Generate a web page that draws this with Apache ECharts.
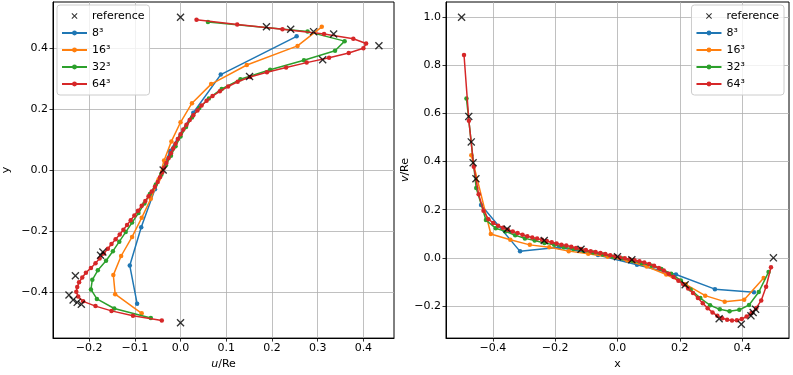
<!DOCTYPE html>
<html>
<head>
  <meta charset="utf-8">
  <title>cavity profiles</title>
  <script src="https://cdn.jsdelivr.net/npm/echarts@6/dist/echarts.min.js"></script>
</head>
<body style="margin:0">
  <div id="main" style="width:793px;height:375px;"></div>
  <script type="text/javascript">
    // cell centre coordinates of the meshes (y on the left plot, x on the right one)
    var pos8 = [-0.4375, -0.3125, -0.1875, -0.0625, 0.0625, 0.1875, 0.3125, 0.4375];
    var pos16 = [-0.4688, -0.4063, -0.3438, -0.2813, -0.2188, -0.1563, -0.0938, -0.0313,
                 0.0313, 0.0938, 0.1563, 0.2188, 0.2813, 0.3438, 0.4063, 0.4688];
    var pos32 = [-0.4844, -0.4531, -0.4219, -0.3906, -0.3594, -0.3281, -0.2969, -0.2656,
                 -0.2344, -0.2031, -0.1719, -0.1406, -0.1094, -0.0781, -0.0469, -0.0156,
                 0.0156, 0.0469, 0.0781, 0.1094, 0.1406, 0.1719, 0.2031, 0.2344,
                 0.2656, 0.2969, 0.3281, 0.3594, 0.3906, 0.4219, 0.4531, 0.4844];
    var pos64 = [-0.4922, -0.4766, -0.4609, -0.4453, -0.4297, -0.4141, -0.3984, -0.3828,
                 -0.3672, -0.3516, -0.3359, -0.3203, -0.3047, -0.2891, -0.2734, -0.2578,
                 -0.2422, -0.2266, -0.2109, -0.1953, -0.1797, -0.1641, -0.1484, -0.1328,
                 -0.1172, -0.1016, -0.0859, -0.0703, -0.0547, -0.0391, -0.0234, -0.0078,
                 0.0078, 0.0234, 0.0391, 0.0547, 0.0703, 0.0859, 0.1016, 0.1172,
                 0.1328, 0.1484, 0.1641, 0.1797, 0.1953, 0.2109, 0.2266, 0.2422,
                 0.2578, 0.2734, 0.2891, 0.3047, 0.3203, 0.3359, 0.3516, 0.3672,
                 0.3828, 0.3984, 0.4141, 0.4297, 0.4453, 0.4609, 0.4766, 0.4922];

    // left plot: u/Re along y
    var uRefY = [-0.5, -0.439, -0.433, -0.425, -0.409, -0.346, -0.279, -0.268, 0.0,
                 0.306, 0.361, 0.407, 0.445, 0.453, 0.461, 0.469, 0.5];
    var uRef = [0.0, -0.217, -0.226, -0.235, -0.244, -0.230, -0.175, -0.170, -0.038,
                0.151, 0.311, 0.434, 0.335, 0.291, 0.241, 0.188, 0.0];
    var u8 = [-0.095, -0.111, -0.086, -0.056, -0.023, 0.028, 0.088, 0.254];
    var u16 = [-0.085, -0.143, -0.147, -0.130, -0.106, -0.085, -0.065, -0.048,
               -0.036, -0.020, 0.000, 0.025, 0.067, 0.145, 0.256, 0.309];
    var u32 = [-0.065, -0.145, -0.183, -0.196, -0.193, -0.181, -0.163, -0.148,
               -0.134, -0.120, -0.106, -0.092, -0.079, -0.067, -0.054, -0.042,
               -0.032, -0.021, -0.011, 0.000, 0.012, 0.025, 0.041, 0.062,
               0.090, 0.131, 0.196, 0.270, 0.338, 0.359, 0.278, 0.060];
    var u64 = [-0.041, -0.104, -0.151, -0.186, -0.213, -0.224, -0.228, -0.226,
               -0.222, -0.215, -0.207, -0.196, -0.186, -0.177, -0.168, -0.159,
               -0.151, -0.142, -0.133, -0.125, -0.117, -0.109, -0.101, -0.093,
               -0.085, -0.077, -0.070, -0.063, -0.056, -0.050, -0.045, -0.040,
               -0.036, -0.031, -0.026, -0.021, -0.016, -0.011, -0.006, 0.000,
               0.006, 0.013, 0.020, 0.028, 0.037, 0.046, 0.057, 0.070,
               0.086, 0.104, 0.125, 0.152, 0.189, 0.231, 0.276, 0.325,
               0.368, 0.400, 0.406, 0.378, 0.314, 0.223, 0.124, 0.035];

    // right plot: v/Re along x
    var vRefX = [-0.5, -0.477, -0.469, -0.463, -0.454, -0.354, -0.235, -0.117, 0.0,
                 0.046, 0.217, 0.326, 0.397, 0.428, 0.435, 0.443, 0.5];
    var vRef = [1.0, 0.588, 0.482, 0.395, 0.329, 0.120, 0.072, 0.036, 0.005,
                -0.008, -0.112, -0.253, -0.276, -0.241, -0.227, -0.214, 0.0];
    var v8 = [0.220, 0.027, 0.044, 0.012, -0.029, -0.069, -0.130, -0.143];
    var v16 = [0.426, 0.099, 0.075, 0.054, 0.044, 0.028, 0.017, 0.005,
               -0.011, -0.036, -0.069, -0.110, -0.157, -0.182, -0.174, -0.084];
    var v32 = [0.662, 0.290, 0.157, 0.123, 0.110, 0.094, 0.081, 0.072,
               0.062, 0.054, 0.044, 0.037, 0.030, 0.022, 0.014, 0.005,
               -0.003, -0.012, -0.022, -0.033, -0.046, -0.066, -0.094, -0.132,
               -0.167, -0.197, -0.214, -0.222, -0.216, -0.196, -0.142, -0.059];
    var v64 = [0.843, 0.570, 0.379, 0.264, 0.196, 0.161, 0.145, 0.134,
               0.125, 0.117, 0.110, 0.103, 0.096, 0.090, 0.085, 0.080,
               0.075, 0.070, 0.065, 0.060, 0.055, 0.051, 0.046, 0.041,
               0.037, 0.033, 0.028, 0.024, 0.020, 0.016, 0.011, 0.007,
               0.002, -0.002, -0.006, -0.010, -0.014, -0.019, -0.025, -0.033,
               -0.042, -0.053, -0.066, -0.080, -0.095, -0.110, -0.127, -0.146,
               -0.167, -0.189, -0.209, -0.227, -0.241, -0.251, -0.257, -0.260,
               -0.259, -0.254, -0.244, -0.229, -0.208, -0.177, -0.120, -0.039];

    var names = ['8\u00b3', '16\u00b3', '32\u00b3', '64\u00b3'];
    var colors = ['#1f77b4', '#ff7f0e', '#2ca02c', '#d62728'];

    // tick labels
    var uTicks = [-0.2, -0.1, 0.0, 0.1, 0.2, 0.3, 0.4];
    var yTicks = [-0.4, -0.2, 0.0, 0.2, 0.4];
    var xTicks = [-0.4, -0.2, 0.0, 0.2, 0.4];
    var vTicks = [-0.2, 0.0, 0.2, 0.4, 0.6, 0.8, 1.0];

    var crossPath = 'path://M0,1.2L1.2,0L5,3.8L8.8,0L10,1.2L6.2,5L10,8.8L8.8,10L5,6.2L1.2,10L0,8.8L3.8,5Z';
    var font = 'DejaVu Sans';

    function fmt(v) { return v.toFixed(1).replace('-', '\u2212'); }
    function pairs(a, b) { return a.map(function (v, i) { return [v, b[i]]; }); }

    function axis(gridIndex, ticks, min, max, name, gap) {
      return {
        type: 'value', gridIndex: gridIndex, min: min, max: max,
        name: name, nameLocation: 'middle', nameGap: gap,
        nameTextStyle: { color: '#000', fontSize: 11, fontFamily: font,
          rich: { i: { fontStyle: 'italic', fontSize: 11, fontFamily: font, color: '#000' } } },
        axisLine: { show: true, onZero: false, lineStyle: { color: '#000', width: 1 } },
        axisTick: { show: true, length: 3.5, customValues: ticks, lineStyle: { color: '#000', width: 0.8 } },
        axisLabel: { color: '#000', fontSize: 11, fontFamily: font, margin: 5,
          customValues: ticks, formatter: fmt },
        splitLine: { show: true, lineStyle: { color: '#b0b0b0', width: 0.8 } }
      };
    }

    var series = [];
    function addPlot(idx, refX, refY, lines) {
      lines.forEach(function (l, i) {
        series.push({
          name: names[i], type: 'line', xAxisIndex: idx, yAxisIndex: idx,
          data: pairs(l[0], l[1]),
          symbol: 'circle', symbolSize: 4.5, showSymbol: true,
          lineStyle: { color: colors[i], width: 1.5 },
          itemStyle: { color: colors[i] },
          emphasis: { disabled: true }, z: 3 + i
        });
      });
      series.push({
        name: 'reference', type: 'scatter', xAxisIndex: idx, yAxisIndex: idx,
        data: pairs(refX, refY), symbol: crossPath, symbolSize: 8,
        itemStyle: { color: '#000' }, emphasis: { disabled: true }, z: 10
      });
    }
    addPlot(0, uRef, uRefY, [[u8, pos8], [u16, pos16], [u32, pos32], [u64, pos64]]);
    addPlot(1, vRefX, vRef, [[pos8, v8], [pos16, v16], [pos32, v32], [pos64, v64]]);

    function legend(pos) {
      return Object.assign({
        orient: 'vertical', top: 5,
        data: ['reference'].concat(names),
        itemWidth: 25, itemHeight: 6, itemGap: 5,
        textStyle: { fontSize: 11, lineHeight: 12, fontFamily: font, color: '#000' },
        backgroundColor: 'rgba(255,255,255,0.8)',
        borderColor: '#cccccc', borderWidth: 1, borderRadius: 3,
        padding: [5, 5, 5, 4], selectedMode: false
      }, pos);
    }

    var chart = echarts.init(document.getElementById('main'));
    chart.setOption({
      animation: false,
      textStyle: { fontFamily: font },
      grid: [
        { left: 51, top: 2, width: 343, height: 339, show: true, borderColor: '#000', borderWidth: 1 },
        { left: 446, top: 2, width: 343, height: 339, show: true, borderColor: '#000', borderWidth: 1 }
      ],
      legend: [legend({ left: 57 }), legend({ right: 9 })],
      xAxis: [
        axis(0, uTicks, -0.279, 0.467, '{i|u}/Re', 19),
        axis(1, xTicks, -0.55, 0.55, 'x', 19)
      ],
      yAxis: [
        axis(0, yTicks, -0.55, 0.55, 'y', 41),
        axis(1, vTicks, -0.3335, 1.0635, '{i|v}/Re', 35)
      ],
      series: series
    });
  </script>
</body>
</html>
